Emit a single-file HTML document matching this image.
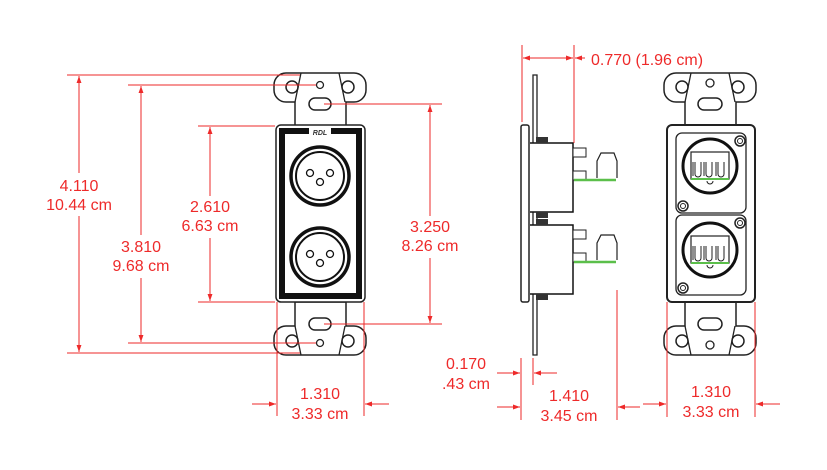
<!DOCTYPE html>
<html><head><meta charset="utf-8"><style>
html,body{margin:0;padding:0;background:#fff;width:827px;height:470px;overflow:hidden}
svg text{font-family:"Liberation Sans",sans-serif;font-size:16px;fill:#ee2a2a}
</style></head><body>
<svg width="827" height="470" viewBox="0 0 827 470" xmlns="http://www.w3.org/2000/svg">
<defs>
<marker id="a" viewBox="0 0 10 10" refX="10" refY="5" markerWidth="10" markerHeight="7" orient="auto" markerUnits="userSpaceOnUse"><path d="M0,1.5 L10,5 L0,8.5z" fill="#ee2a2a"/></marker>
<g id="ear">
<path d="M286,73 H354 A12,12 0 0 1 366,85 V90 A12,12 0 0 1 354,102 H346 V126 H295 V102 H286 A12,12 0 0 1 274,90 V85 A12,12 0 0 1 286,73Z" fill="#fff" stroke="#222" stroke-width="1.5"/>
<path d="M301,73 L295,102 M339,73 L345,102" stroke="#222" stroke-width="1.3" fill="none"/>
<circle cx="292" cy="87" r="6" fill="none" stroke="#222" stroke-width="1.5"/>
<circle cx="348" cy="87" r="6" fill="none" stroke="#222" stroke-width="1.5"/>
</g>
<g id="xlr">
<circle r="29" fill="none" stroke="#111" stroke-width="3.5"/>
<circle r="24" fill="none" stroke="#111" stroke-width="2"/>
<circle cx="-10" cy="-3" r="3.5" fill="none" stroke="#111" stroke-width="1.3"/>
<circle cx="10" cy="-3" r="3.5" fill="none" stroke="#111" stroke-width="1.3"/>
<circle cx="0" cy="6" r="3.5" fill="none" stroke="#111" stroke-width="1.3"/>
</g>
<g id="term">
<circle r="27" fill="none" stroke="#111" stroke-width="3"/>
<rect x="-19" y="-14" width="38" height="27" fill="#fff" stroke="#222" stroke-width="1.2"/>
<path d="M-17,-4 v14 m2,-14 v12 a3,3 0 0 0 6,0 v-12 M-6,-4 v14 m2,-14 v12 a3,3 0 0 0 6,0 v-12 M6,-4 v14 m2,-14 v12 a3,3 0 0 0 6,0 v-12" stroke="#222" fill="none" stroke-width="1"/>
<line x1="-19" y1="13" x2="19" y2="13" stroke="#5bbf4a" stroke-width="2"/>
<path d="M-3,15 a3,3 0 0 0 6,0" stroke="#222" fill="none"/>
</g>
<g id="nut"><circle r="5" fill="#fff" stroke="#222" stroke-width="1.5"/><circle r="2.5" fill="none" stroke="#222"/></g>
<g id="sconn">
<path d="M530,0 H573 V69 H530" fill="#fff" stroke="#111" stroke-width="1.5"/>
<rect x="536" y="-6" width="12" height="6" fill="#333"/>
<rect x="536" y="69" width="12" height="6" fill="#333"/>
<rect x="573" y="5" width="13" height="9" fill="#fff" stroke="#222"/>
<rect x="573" y="28" width="13" height="9" fill="#fff" stroke="#222"/>
<line x1="574" y1="37" x2="616" y2="37" stroke="#5bbf4a" stroke-width="2.5"/>
<path d="M597,35 V18 L601,10 H614 L617,18 V35" fill="#fff" stroke="#222" stroke-width="1.2"/>
</g>
</defs>

<use href="#ear"/>
<use href="#ear" transform="translate(0,428) scale(1,-1)"/>
<circle cx="320" cy="85" r="3.5" fill="none" stroke="#222" stroke-width="1.3"/>
<rect x="309" y="98" width="22" height="12" rx="6" fill="none" stroke="#222" stroke-width="1.5"/>
<circle cx="320" cy="343" r="3.5" fill="none" stroke="#222" stroke-width="1.3"/>
<rect x="309" y="318" width="22" height="12" rx="6" fill="none" stroke="#222" stroke-width="1.5"/>
<rect x="276" y="125" width="89" height="177" rx="5" fill="#fff" stroke="#222" stroke-width="1.5"/>
<rect x="282" y="131" width="77" height="165" fill="none" stroke="#111" stroke-width="6"/>
<rect x="309" y="127" width="22" height="9" fill="#fff"/>
<text x="320" y="135" text-anchor="middle" style="font-size:7px;fill:#333;font-style:italic;font-weight:bold">RDL</text>
<use href="#xlr" x="320" y="176"/>
<use href="#xlr" x="320" y="257"/>

<path d="M533,75 H537 V355 H533Z" fill="#fff" stroke="#222" stroke-width="1.3"/>
<rect x="521" y="125" width="8" height="177" rx="2" fill="#fff" stroke="#222" stroke-width="1.5"/>
<use href="#sconn" y="143"/>
<use href="#sconn" y="225"/>

<use href="#ear" transform="translate(390,0)"/>
<use href="#ear" transform="translate(390,428) scale(1,-1)"/>
<circle cx="710" cy="83" r="4" fill="none" stroke="#222" stroke-width="1.3"/>
<rect x="698" y="98" width="24" height="12" rx="6" fill="none" stroke="#222" stroke-width="1.5"/>
<circle cx="710" cy="345" r="4" fill="none" stroke="#222" stroke-width="1.3"/>
<rect x="698" y="318" width="24" height="12" rx="6" fill="none" stroke="#222" stroke-width="1.5"/>
<rect x="667" y="125" width="88" height="177" rx="5" fill="#fff" stroke="#222" stroke-width="2"/>
<rect x="676" y="133" width="70" height="80" rx="6" fill="none" stroke="#222" stroke-width="1.3"/>
<rect x="676" y="215" width="70" height="80" rx="6" fill="none" stroke="#222" stroke-width="1.3"/>
<use href="#term" x="710" y="166"/>
<use href="#term" x="710" y="250"/>
<use href="#nut" x="740" y="141"/><use href="#nut" x="683" y="206"/>
<use href="#nut" x="740" y="223"/><use href="#nut" x="683" y="288"/>

<g stroke="#ee2a2a" stroke-width="1" fill="none">
<line x1="67" y1="75" x2="300" y2="75"/><line x1="67" y1="353" x2="300" y2="353"/>
<line x1="128" y1="85" x2="316" y2="85"/><line x1="128" y1="343" x2="316" y2="343"/>
<line x1="198" y1="126" x2="275" y2="126"/><line x1="198" y1="302" x2="275" y2="302"/>
<line x1="324" y1="104" x2="442" y2="104"/><line x1="324" y1="324" x2="442" y2="324"/>
<line x1="277" y1="302" x2="277" y2="416"/><line x1="364" y1="302" x2="364" y2="416"/>
<line x1="522" y1="45" x2="522" y2="122"/><line x1="574" y1="45" x2="574" y2="143"/>
<line x1="521" y1="358" x2="521" y2="420"/><line x1="533" y1="358" x2="533" y2="385"/>
<line x1="617" y1="290" x2="617" y2="420"/>
<line x1="667" y1="302" x2="667" y2="417"/><line x1="755" y1="302" x2="755" y2="417"/>
</g>
<g stroke="#ee2a2a" stroke-width="1" fill="none" marker-end="url(#a)">
<line x1="79" y1="173" x2="79" y2="76"/><line x1="79" y1="216" x2="79" y2="352"/>
<line x1="141" y1="235" x2="141" y2="86"/><line x1="141" y1="278" x2="141" y2="342"/>
<line x1="210" y1="196" x2="210" y2="127"/><line x1="210" y1="238" x2="210" y2="301"/>
<line x1="430" y1="216" x2="430" y2="105"/><line x1="430" y1="258" x2="430" y2="323"/>
<line x1="252" y1="404" x2="276" y2="404"/><line x1="389" y1="404" x2="365" y2="404"/>
<line x1="548" y1="58" x2="523" y2="58"/><line x1="548" y1="58" x2="573" y2="58"/>
<line x1="585" y1="58" x2="575" y2="58"/>
<line x1="497" y1="373" x2="520" y2="373"/><line x1="557" y1="373" x2="534" y2="373"/>
<line x1="497" y1="407" x2="520" y2="407"/><line x1="640" y1="407" x2="618" y2="407"/>
<line x1="643" y1="404" x2="666" y2="404"/><line x1="780" y1="404" x2="756" y2="404"/>
</g>
<text x="79" y="191" text-anchor="middle">4.110</text>
<text x="79" y="210" text-anchor="middle">10.44 cm</text>
<text x="141" y="252" text-anchor="middle">3.810</text>
<text x="141" y="271" text-anchor="middle">9.68 cm</text>
<text x="210" y="212" text-anchor="middle">2.610</text>
<text x="210" y="231" text-anchor="middle">6.63 cm</text>
<text x="430" y="232" text-anchor="middle">3.250</text>
<text x="430" y="251" text-anchor="middle">8.26 cm</text>
<text x="320" y="399" text-anchor="middle">1.310</text>
<text x="320" y="419" text-anchor="middle">3.33 cm</text>
<text x="591" y="65">0.770 (1.96 cm)</text>
<text x="466" y="369" text-anchor="middle">0.170</text>
<text x="466" y="389" text-anchor="middle">.43 cm</text>
<text x="569" y="401" text-anchor="middle">1.410</text>
<text x="569" y="421" text-anchor="middle">3.45 cm</text>
<text x="711" y="397" text-anchor="middle">1.310</text>
<text x="711" y="417" text-anchor="middle">3.33 cm</text>
</svg>
</body></html>
